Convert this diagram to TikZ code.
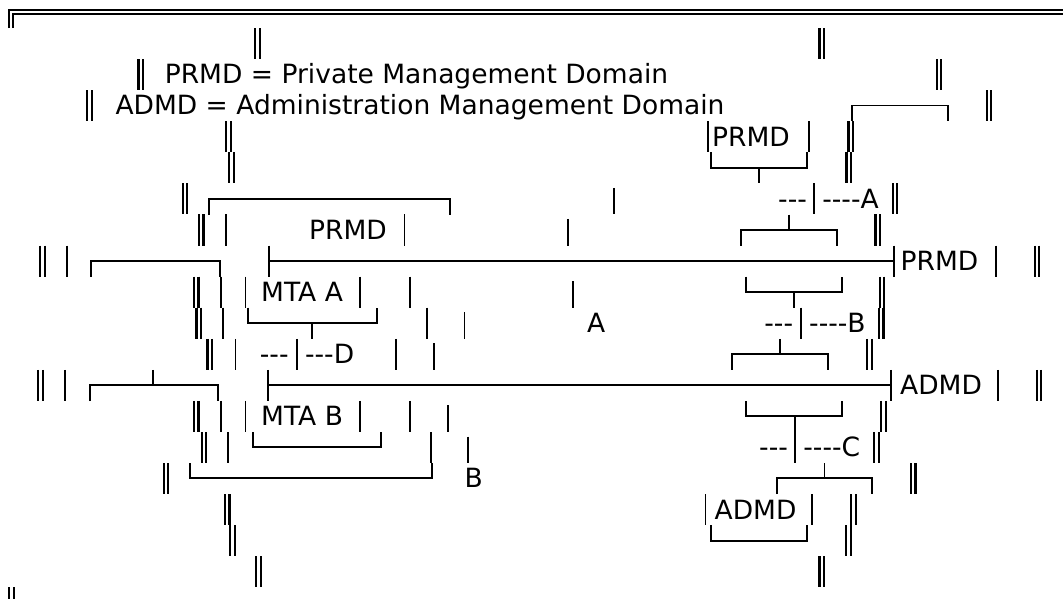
\documentclass[tikz,border=0pt]{standalone}
\usepackage{fontspec}
\setmainfont{DejaVu Sans}

\newcommand{\dsh}{\mbox{-}}
\tikzset{
  box/.style={line width=1.9pt},
  txt/.style={anchor=base west, inner sep=0pt, font=\fontsize{26.5pt}{31pt}\selectfont},
  dbar/.pic={\draw[line width=2.2pt] (-2.3,0) -- (-2.3,31.08) (2.3,0) -- (2.3,31.08);}
}

\begin{document}
\begin{tikzpicture}[x=1pt,y=-1pt]
    \useasboundingbox (0,0) rectangle (1063,598);
    \fill[white] (0,0) rectangle (1063,598);
    % outer frame
    \draw[box] (9.2,28) |- (1063,10.2);
    \draw[box] (13.2,28) |- (1063,14.3);
    % double bars, x/row
    \foreach \x/\r in {257.5/1, 821.7/1, 140.7/2, 939/2, 89.3/3, 989/3, 228.3/4, 850.7/4,
        231.6/5, 848.8/5, 185/6, 895/6, 201.2/7, 877.8/7, 42.6/8, 1036.9/8, 196.2/9, 882/9,
        198.8/10, 881.2/10, 209.8/11, 869.5/11, 40.5/12, 1039/12, 196.2/13, 883.3/13,
        204/14, 876.6/14, 165.9/15, 913.1/15, 227.2/16, 853.3/16, 232.4/17, 848.4/17,
        258.3/18, 821.7/18, 11.5/19}
        \pic at (\x,{31.08*\r-3.08}) {dbar};
    % single bars
    \foreach \x/\r in {707.9/4, 809/4, 814.1/6, 225.9/7, 404.5/7, 67.2/8, 995.9/8,
        220.7/9, 245.5/9, 360.3/9, 410.3/9, 223.4/10, 426.6/10, 801/10,
        235.5/11, 296.6/11, 395.9/11, 64.8/12, 997.6/12,
        220.7/13, 245.5/13, 360.3/13, 410.3/13, 227.6/14, 431/14, 795.2/14,
        705.5/16, 812.4/16}
        \draw[box] (\x,{31.08*\r-3.08}) -- ++(0,31.08);
    % pipes
    \foreach \x/\r in {613.8/6, 568.3/7, 573.4/9, 464.5/10, 433.8/11, 448.3/13, 468.3/14}
        \draw[box] (\x,{31.08*\r+1.4}) -- ++(0,26.6);
    % brackets
    \draw[box] (851.7,121.2) |- (948.3,105.5) -- (948.3,121.2);
    \draw[box] (710.7,152.3) |- (807.2,167.6) -- (807.2,152.3);
    \draw[box] (758.6,167.6) -- (758.6,183.4);
    \draw[box] (208.6,214.5) |- (450,198.7) -- (450,214.5);
    \draw[box] (740.7,245.6) |- (837.2,229.8) -- (837.2,245.6);
    \draw[box] (789,214.5) -- (789,229.8);
    \draw[box] (91.4,276.6) |- (220.4,260.9) -- (220.4,276.6);
    \draw[box] (269.3,245.6) -- (269.3,276.6) (269.3,260.9) -- (894.1,260.9) (894.1,245.6) -- (894.1,276.6);
    \draw[box] (745.9,276.6) |- (842.4,291.9) -- (842.4,276.6);
    \draw[box] (794.1,291.9) -- (794.1,307.7);
    \draw[box] (247.6,307.7) |- (376.9,323) -- (376.9,307.7);
    \draw[box] (312.1,323) -- (312.1,338.8);
    \draw[box] (732.1,369.9) |- (827.9,354.1) -- (827.9,369.9);
    \draw[box] (780.3,338.8) -- (780.3,354.1);
    \draw[box] (89.7,401) |- (217.9,385.2) -- (217.9,401);
    \draw[box] (153.4,369.9) -- (153.4,385.2);
    \draw[box] (267.9,369.9) -- (267.9,401) (267.9,385.2) -- (890.7,385.2) (890.7,369.9) -- (890.7,401);
    \draw[box] (745.9,401) |- (842.4,416.3) -- (842.4,401);
    \draw[box] (794.8,416.3) -- (794.8,432);
    \draw[box] (252.8,432) |- (381,447.3) -- (381,432);
    \draw[box] (190.3,463.1) |- (431.7,478.4) -- (431.7,463.1);
    \draw[box] (776.9,494.2) |- (872.4,478.4) -- (872.4,494.2);
    \draw[box] (824.5,463.1) -- (824.5,478.4);
    \draw[box] (710.7,525.3) |- (807.2,540.6) -- (807.2,525.3);
    % texts
    \node[txt] (prmdkey) at (164.6,83.9) {PRMD = Private Management Domain};
    \node[txt] (admdkey) at (115.3,114.9) {ADMD = Administration Management Domain};
    \node[txt] (prmdtop) at (712,146) {PRMD};
    \node[txt] (dashA1) at (778,208.2) {\dsh\dsh\dsh};
    \node[txt] (dashA2) at (822.1,208.2) {\dsh\dsh\dsh\dsh A};
    \node[txt] (prmdleft) at (309,239.3) {PRMD};
    \node[txt] (prmdright) at (900.5,270.3) {PRMD};
    \node[txt] (mtaA) at (261,301.4) {MTA A};
    \node[txt] (labA) at (587,332.5) {A};
    \node[txt] (dashB1) at (764.2,332.5) {\dsh\dsh\dsh};
    \node[txt] (dashB2) at (809,332.5) {\dsh\dsh\dsh\dsh B};
    \node[txt] (dashD1) at (259.7,363.6) {\dsh\dsh\dsh};
    \node[txt] (dashD2) at (304.9,363.6) {\dsh\dsh\dsh D};
    \node[txt] (admdright) at (900,394.7) {ADMD};
    \node[txt] (mtaB) at (261,425.7) {MTA B};
    \node[txt] (dashC1) at (759,456.8) {\dsh\dsh\dsh};
    \node[txt] (dashC2) at (803.2,456.8) {\dsh\dsh\dsh\dsh C};
    \node[txt] (labB) at (464.5,487.9) {B};
    \node[txt] (admdbottom) at (714.5,519) {ADMD};
\end{tikzpicture}
\end{document}
